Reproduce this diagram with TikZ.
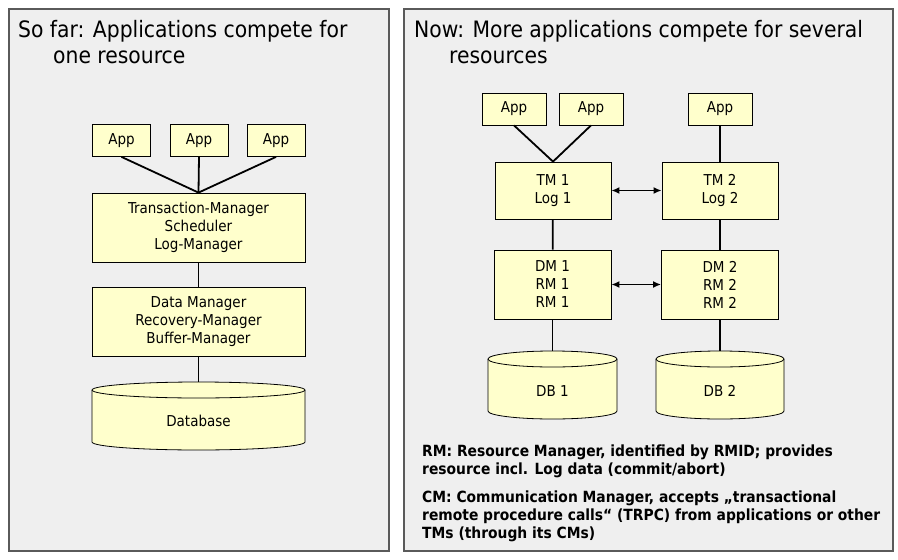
\documentclass[tikz,border=0pt]{standalone}
\usepackage{fontspec}
\setmainfont{DejaVu Sans Condensed}
\usetikzlibrary{positioning, arrows.meta}

\definecolor{boxyellow}{HTML}{FFFFCC}
\definecolor{panelgray}{HTML}{EFEFEF}
\definecolor{framegray}{HTML}{5A5A5A}

\tikzset{
  panel/.style={draw=framegray, fill=panelgray, line width=1.2pt},
  title/.style={anchor=base west, inner sep=0pt, font=\fontsize{22.6}{26}\selectfont},
  box/.style={draw=black, fill=boxyellow, line width=0.8pt, align=center, inner sep=0pt,
    font=\fontsize{15}{18}\selectfont},
  app/.style={box, minimum width=58pt, minimum height=32pt},
  bigbox/.style={box, minimum width=213pt, minimum height=69pt},
  tmbox/.style={box, minimum width=116pt, minimum height=57pt},
  dmbox/.style={box, minimum width=117pt, minimum height=69pt},
  dblabel/.style={inner sep=0pt, font=\fontsize{15}{18}\selectfont, text depth=0pt},
  cyl/.style={draw=black, fill=boxyellow, line width=0.8pt},
  link/.style={line width=1.8pt},
  note/.style={anchor=base west, inner sep=0pt, align=left, font=\bfseries\fontsize{15.4}{18}\selectfont}
}

% database drawn as cylinder: left, right, top, bottom
\newcommand{\drawdb}[4]{%
  \pgfmathsetmacro\dbrx{(#2-#1)/2}
  \filldraw[cyl] (#1,#3+8) -- (#1,#4-8)
    arc[start angle=180, end angle=360, x radius=\dbrx pt, y radius=8pt]
    -- (#2,#3+8)
    arc[start angle=0, end angle=180, x radius=\dbrx pt, y radius=8pt] -- cycle;
  \draw[cyl, fill=none] (#1,#3+8)
    arc[start angle=180, end angle=360, x radius=\dbrx pt, y radius=8pt];
}

\begin{document}
\begin{tikzpicture}[x=1pt, y=-1pt, >={Latex[length=8pt, width=7pt]}]
  \useasboundingbox (0,0) rectangle (898,560);

  % Panels
  \draw[panel] (9,9) rectangle (389,551);
  \draw[panel] (404,9) rectangle (893,551);

  % Titles
  \node[title] (tleft1) at (18,37) {So far: Applications compete for};
  \node[title] (tleft2) at (53,63) {one resource};
  \node[title] (tright1) at (414,37) {Now: More applications compete for several};
  \node[title] (tright2) at (449,63) {resources};

  % Left side: one resource
  \node[app] (appL1) at (121.5,140.5) {App};
  \node[app] (appL2) at (199,140.5) {App};
  \node[app] (appL3) at (276,140.5) {App};
  \node[bigbox] (tmL) at (198.5,227.5) {Transaction-Manager\\Scheduler\\Log-Manager};
  \node[bigbox] (dmL) at (198.5,321.5) {Data Manager\\Recovery-Manager\\Buffer-Manager};
  \drawdb{92}{305}{382}{450}
  \node[dblabel, minimum width=213pt, minimum height=68pt] (dbL) at (198.5,416) {};
  \node[dblabel] at (198.5,421) {Database};

  \foreach \a in {1,2,3}
    \draw[link] (appL\a.south) -- (tmL.north);
  \draw[link] (tmL) -- (dmL);
  \draw[link] (dmL) -- (dbL);

  % Right side: several resources
  \node[app, minimum width=64pt] (appR1) at (514,109) {App};
  \node[app, minimum width=64pt] (appR2) at (591,109) {App};
  \node[app, minimum width=64pt] (appR3) at (720,109) {App};
  \node[tmbox] (tm1) at (553,190.5) {TM 1\\Log 1};
  \node[tmbox] (tm2) at (720,190.5) {TM 2\\Log 2};
  \node[dmbox] (dm1) at (552.5,284.5) {DM 1\\RM 1\\RM 1};
  \node[dmbox] (dm2) at (720,284.5) {DM 2\\RM 2\\RM 2};
  \drawdb{488}{617}{351}{419}
  \drawdb{656}{784}{351}{419}
  \node[dblabel, minimum width=129pt, minimum height=68pt] (db1) at (552.5,385) {};
  \node[dblabel, minimum width=128pt, minimum height=68pt] (db2) at (720,385) {};
  \node[dblabel] at (552.5,391) {DB 1};
  \node[dblabel] at (720,391) {DB 2};

  \draw[link] (appR1.south) -- (tm1.north);
  \draw[link] (appR2.south) -- (tm1.north);
  \draw[link] (appR3) -- (tm2);
  \foreach \i in {1,2} {
    \draw[link] (tm\i) -- (dm\i);
    \draw[link] (dm\i) -- (db\i);
  }
  \draw[link, <->] (tm1) -- (tm2);
  \draw[link, <->] (dm1) -- (dm2);

  % Notes (anchored at the last line)
  \node[note] (rmnote) at (422,474) {RM: Resource Manager, identified by RMID; provides\\
    resource incl. Log data (commit/abort)};
  \node[note] (cmnote) at (422,538) {CM: Communication Manager, accepts „transactional\\
    remote procedure calls“ (TRPC) from applications or other\\
    TMs (through its CMs)};
\end{tikzpicture}
\end{document}
